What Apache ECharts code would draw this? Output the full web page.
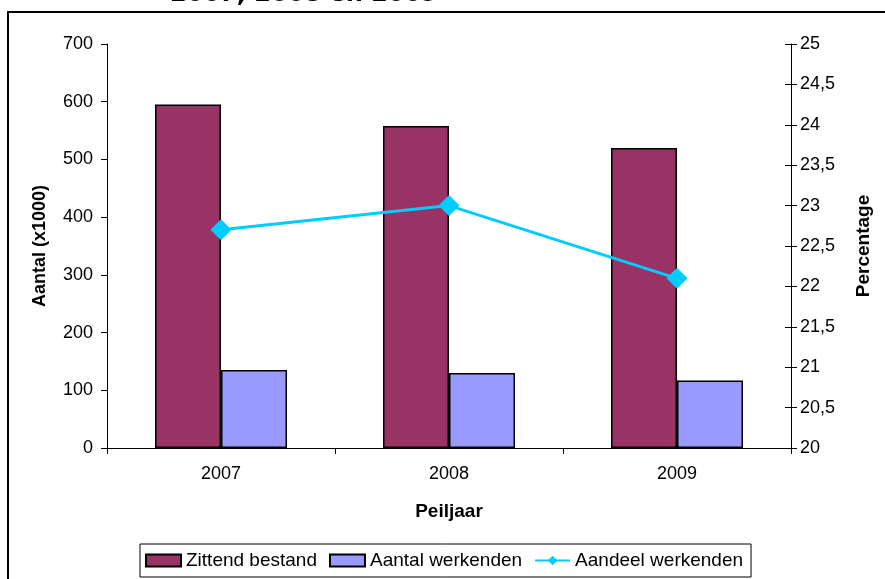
<!DOCTYPE html>
<html>
<head>
<meta charset="utf-8">
<script src="https://cdn.jsdelivr.net/npm/echarts@6/dist/echarts.min.js"></script>
<style>
html,body{margin:0;padding:0;background:#fff;}
#c{width:885px;height:579px;}
</style>
</head>
<body>
<div id="c"></div>
<script>
var categories = ['2007', '2008', '2009'];
var zittendBestand = [595, 558, 520];
var aantalWerkenden = [135, 130, 117];
var aandeelWerkenden = [22.7, 23.0, 22.1];
var titleText = '2007, 2008 en 2009';

var chart = echarts.init(document.getElementById('c'), null, {renderer: 'canvas'});
var FONT = 'Liberation Sans, Arial, sans-serif';
var pctFmt = function (v) { return String(Math.round(v * 10) / 10).replace('.', ','); };

chart.setOption({
  backgroundColor: '#fff',
  animation: false,
  textStyle: {fontFamily: FONT, color: '#000'},
  graphic: [
    {type: 'rect', shape: {x: 8, y: 12, width: 1000, height: 1000}, style: {fill: 'none', stroke: '#000', lineWidth: 2}, silent: true},
    {type: 'text', x: 170, y: 7, style: {text: titleText, font: 'bold 24px "DejaVu Sans", Verdana, sans-serif', fill: '#000', textAlign: 'left', textVerticalAlign: 'bottom'}, silent: true}
  ],
  grid: {left: 107, right: 94, top: 44, bottom: 131, containLabel: false},
  legend: {
    left: 140, top: 544,
    borderColor: '#000', borderWidth: 1,
    padding: [7, 8, 7, 5],
    itemWidth: 35, itemHeight: 12, itemGap: 12,
    textStyle: {fontSize: 19, fontFamily: FONT, color: '#000', padding: [0, 0, 0, 0]},
    data: [
      {name: 'Zittend bestand', icon: 'rect'},
      {name: 'Aantal werkenden', icon: 'rect'},
      {name: 'Aandeel werkenden'}
    ]
  },
  xAxis: {
    type: 'category', data: categories, boundaryGap: true,
    axisLine: {lineStyle: {color: '#000', width: 1}},
    axisTick: {show: true, alignWithLabel: false, length: 6, lineStyle: {color: '#000'}},
    axisLabel: {fontSize: 18, color: '#000', margin: 17, fontFamily: FONT},
    name: 'Peiljaar', nameLocation: 'middle', nameGap: 54,
    nameTextStyle: {fontSize: 19, fontWeight: 'bold', color: '#000', fontFamily: FONT}
  },
  yAxis: [
    {
      type: 'value', position: 'left', min: 0, max: 700, interval: 100,
      axisLine: {show: true, lineStyle: {color: '#000'}},
      axisTick: {show: true, length: 6, lineStyle: {color: '#000'}},
      splitLine: {show: false},
      axisLabel: {fontSize: 18, color: '#000', margin: 14, fontFamily: FONT},
      name: 'Aantal (x1000)', nameLocation: 'middle', nameGap: 58, nameRotate: 90,
      nameTextStyle: {fontSize: 18, fontWeight: 'bold', color: '#000', fontFamily: FONT}
    },
    {
      type: 'value', position: 'right', min: 20, max: 25, interval: 0.5,
      axisLine: {show: true, lineStyle: {color: '#000'}},
      axisTick: {show: true, length: 6, lineStyle: {color: '#000'}},
      splitLine: {show: false},
      axisLabel: {fontSize: 18, color: '#000', margin: 9, fontFamily: FONT, formatter: pctFmt},
      name: 'Percentage', nameLocation: 'middle', nameGap: 63, nameRotate: 90,
      nameTextStyle: {fontSize: 19, fontWeight: 'bold', color: '#000', fontFamily: FONT}
    },
    {
      type: 'value', position: 'right', min: 20, max: 25, interval: 0.5,
      axisLine: {show: false},
      axisTick: {show: true, inside: true, length: 6, lineStyle: {color: '#000'}},
      splitLine: {show: false},
      axisLabel: {show: false}
    }
  ],
  series: [
    {
      name: 'Zittend bestand', type: 'bar', data: zittendBestand, yAxisIndex: 0,
      barWidth: 66, barGap: '0%',
      itemStyle: {color: '#993366', borderColor: '#000', borderWidth: 1.5}
    },
    {
      name: 'Aantal werkenden', type: 'bar', data: aantalWerkenden, yAxisIndex: 0,
      barWidth: 66, barGap: '0%',
      itemStyle: {color: '#9999FF', borderColor: '#000', borderWidth: 1.5}
    },
    {
      name: 'Aandeel werkenden', type: 'line', data: aandeelWerkenden, yAxisIndex: 1,
      symbol: 'diamond', symbolSize: 21,
      lineStyle: {color: '#00CCFF', width: 3},
      itemStyle: {color: '#00CCFF'}
    }
  ]
});
</script>
</body>
</html>
